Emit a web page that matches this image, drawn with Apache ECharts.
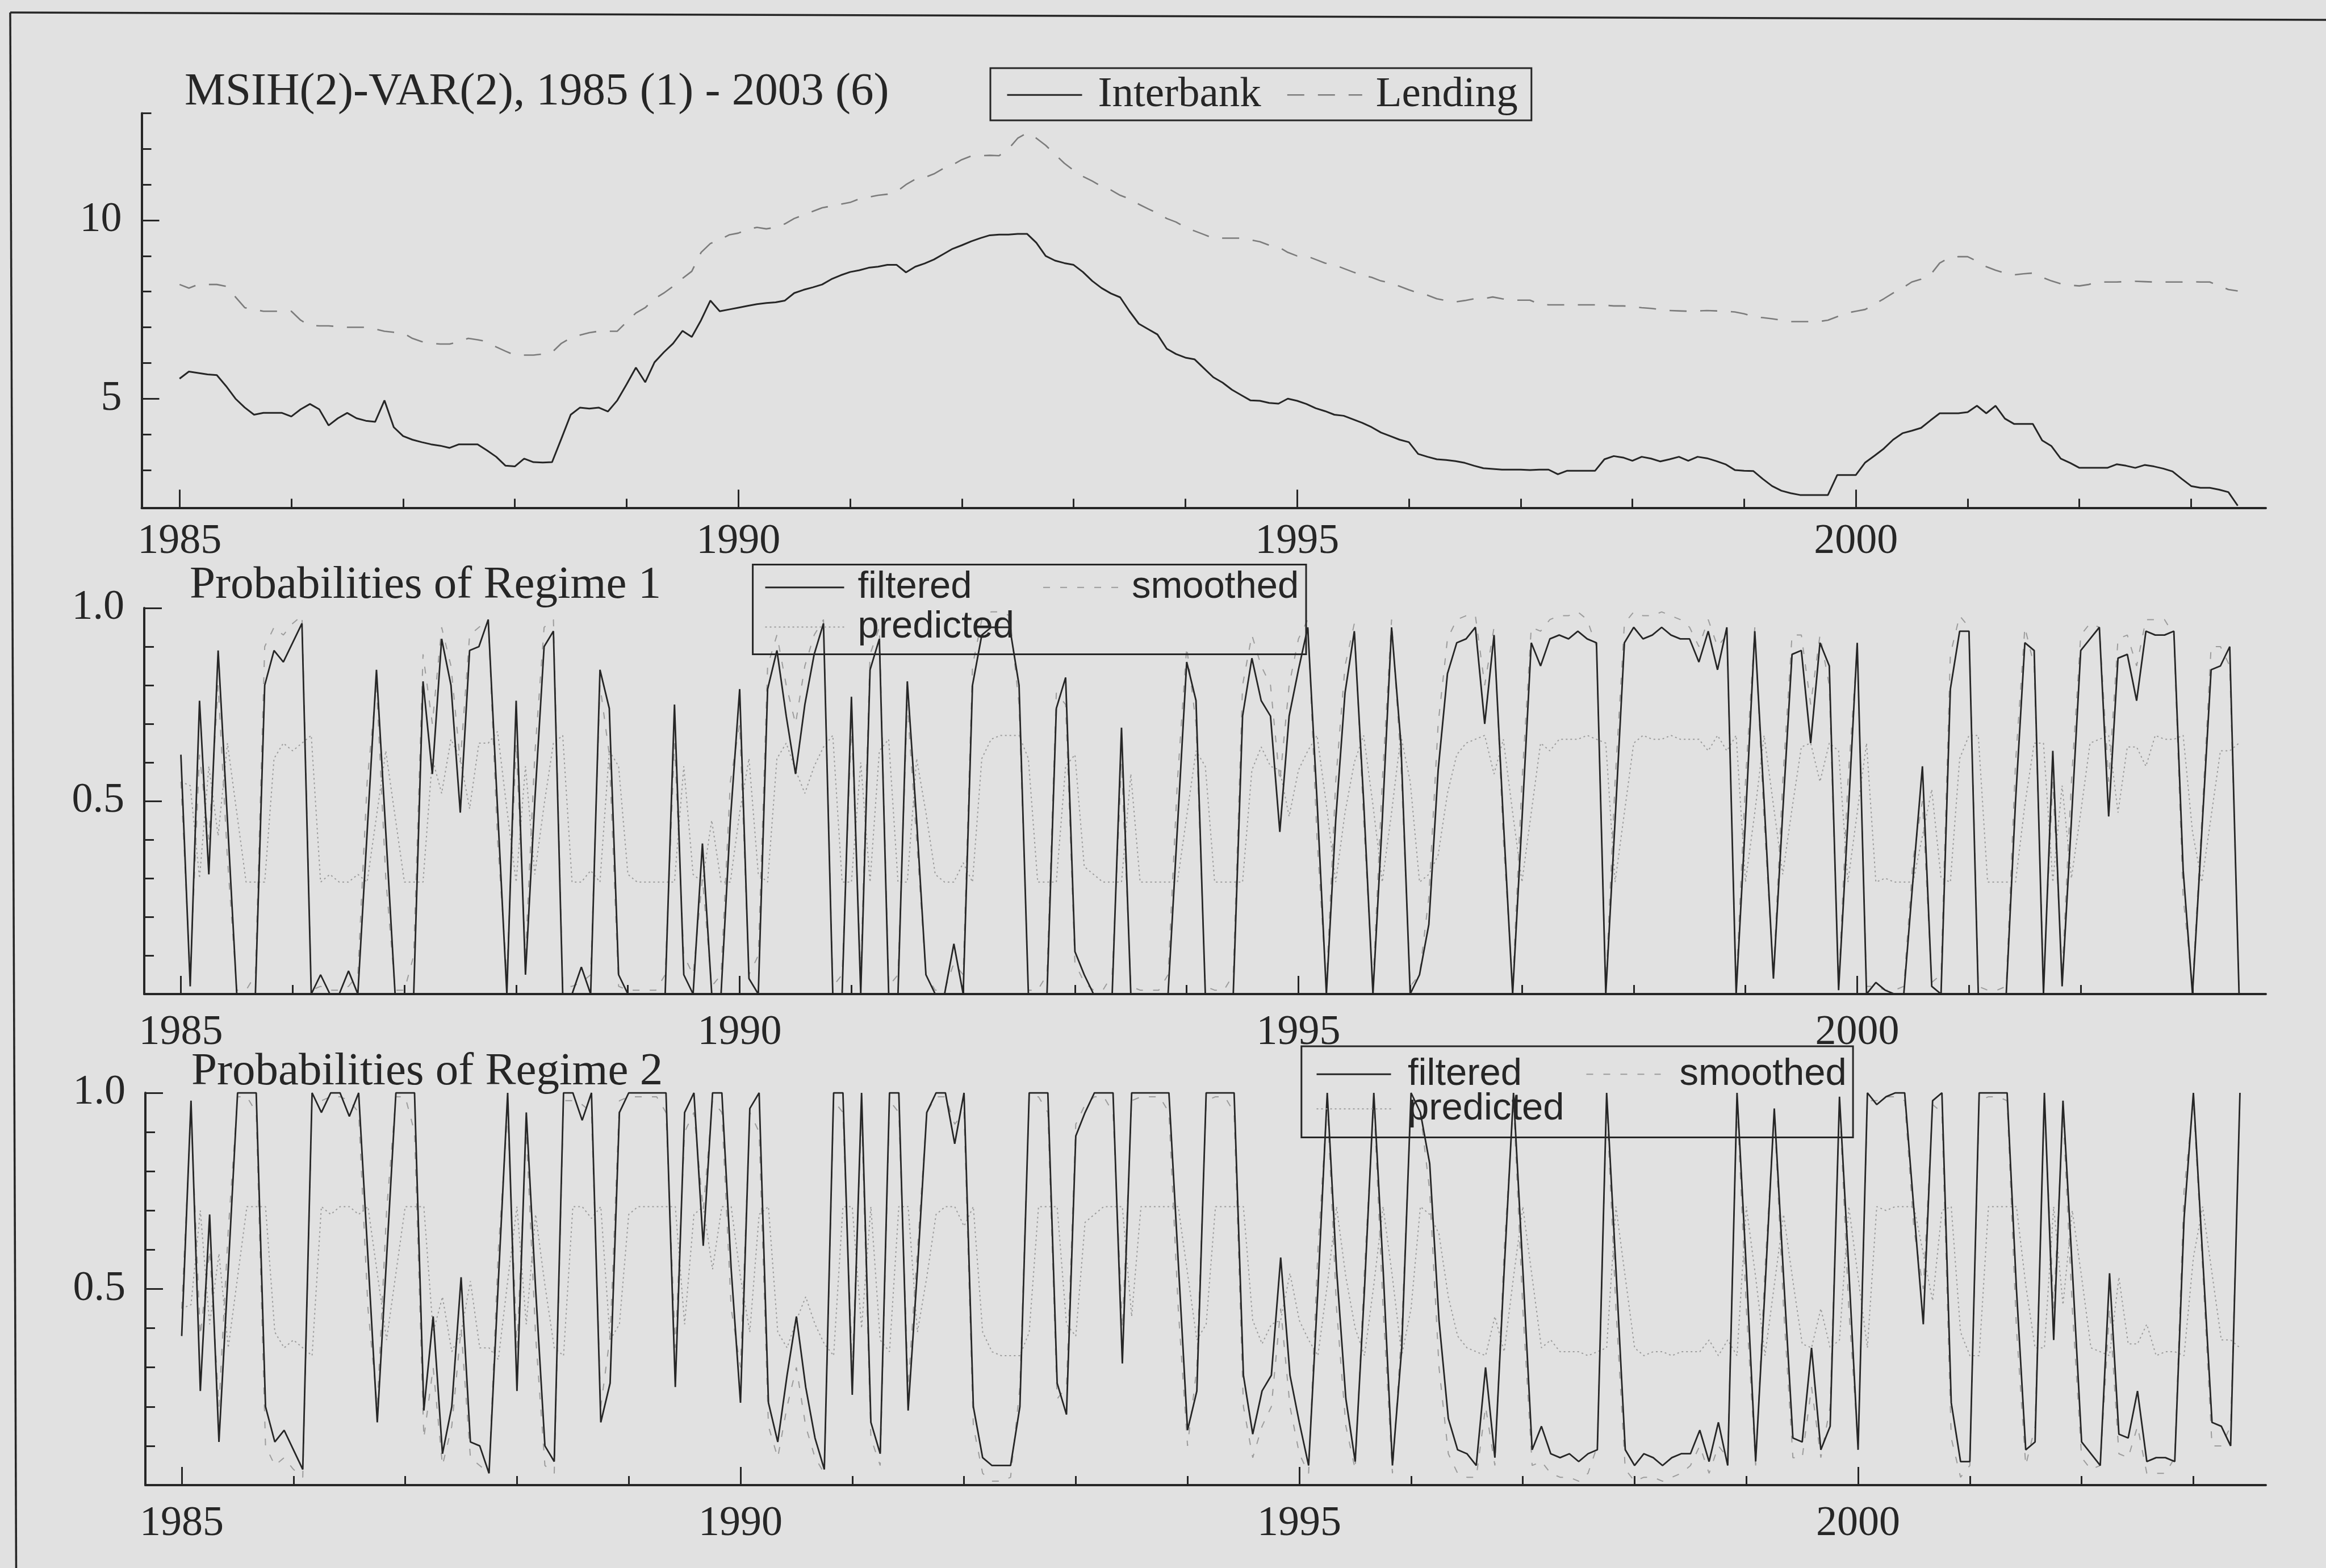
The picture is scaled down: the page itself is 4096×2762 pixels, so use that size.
<!DOCTYPE html>
<html>
<head>
<meta charset="utf-8">
<title>MSIH(2)-VAR(2), 1985 (1) - 2003 (6)</title>
<script src="https://cdn.jsdelivr.net/npm/echarts@6/dist/echarts.min.js"></script>
<style>
  html, body { margin: 0; padding: 0; background: #e1e1e1; }
  #chart { width: 4096px; height: 2762px; }
</style>
</head>
<body>
<div id="chart"></div>
<script>
// Monthly sample, 1985 (1) - 2003 (6): one row per year.
const startYear = 1985;

const interbank = [
  5.56, 5.76, 5.72, 5.68, 5.66, 5.35, 5.0, 4.75, 4.55, 4.6, 4.6, 4.6,
  4.5, 4.7, 4.85, 4.7, 4.25, 4.45, 4.6, 4.45, 4.38, 4.35, 4.95, 4.2,
  3.95, 3.85, 3.78, 3.72, 3.68, 3.62, 3.72, 3.72, 3.72, 3.55, 3.37, 3.12,
  3.1, 3.32, 3.22, 3.21, 3.22, 3.88, 4.55, 4.75, 4.72, 4.75, 4.64, 4.95,
  5.4, 5.87, 5.46, 6.02, 6.3, 6.55, 6.9, 6.73, 7.2, 7.75, 7.45, 7.5,
  7.55, 7.6, 7.65, 7.68, 7.7, 7.75, 7.96, 8.05, 8.12, 8.2, 8.35, 8.46,
  8.55, 8.6, 8.67, 8.7, 8.75, 8.75, 8.54, 8.7, 8.79, 8.9, 9.05, 9.2,
  9.3, 9.41, 9.5, 9.58, 9.6, 9.6, 9.62, 9.62, 9.37, 9.0, 8.87, 8.8,
  8.75, 8.55, 8.3, 8.1, 7.95, 7.84, 7.45, 7.1, 6.95, 6.8, 6.4, 6.25,
  6.15, 6.1, 5.85, 5.6, 5.45, 5.25, 5.1, 4.95, 4.94, 4.88, 4.86, 5.0,
  4.94, 4.85, 4.73, 4.65, 4.55, 4.52, 4.42, 4.32, 4.2, 4.05, 3.95, 3.85,
  3.78, 3.45, 3.37, 3.3, 3.28, 3.25, 3.2, 3.12, 3.05, 3.03, 3.01, 3.01,
  3.01, 3.0, 3.01, 3.01, 2.88, 2.98, 2.98, 2.98, 2.98, 3.3, 3.39, 3.35,
  3.26, 3.37, 3.32, 3.24, 3.3, 3.37, 3.26, 3.37, 3.33, 3.25, 3.16, 3.0,
  2.98, 2.97, 2.75, 2.55, 2.42, 2.35, 2.3, 2.3, 2.3, 2.3, 2.86, 2.86,
  2.86, 3.21, 3.4, 3.6, 3.85, 4.03, 4.1, 4.18, 4.39, 4.59, 4.59, 4.59,
  4.62, 4.8, 4.59, 4.8, 4.44, 4.29, 4.29, 4.29, 3.83, 3.67, 3.32, 3.2,
  3.06, 3.06, 3.06, 3.06, 3.16, 3.12, 3.06, 3.14, 3.1, 3.04, 2.96, 2.75,
  2.55, 2.5, 2.5, 2.45, 2.38, 2.0
];

const lending = [
  8.2, 8.1, 8.2, 8.2, 8.2, 8.15, 7.85, 7.55, 7.5, 7.45, 7.45, 7.45,
  7.45, 7.2, 7.05, 7.04, 7.04, 7.02, 7.0, 7.0, 7.0, 6.95, 6.89, 6.86,
  6.84, 6.69, 6.6, 6.55, 6.53, 6.53, 6.6, 6.69, 6.65, 6.6, 6.45, 6.33,
  6.22, 6.22, 6.22, 6.25, 6.3, 6.55, 6.7, 6.78, 6.85, 6.89, 6.89, 6.89,
  7.15, 7.4, 7.55, 7.8, 7.96, 8.15, 8.37, 8.57, 9.1, 9.35, 9.45, 9.59,
  9.64, 9.75, 9.8, 9.76, 9.8, 9.9, 10.05, 10.15, 10.25, 10.35, 10.4, 10.45,
  10.5, 10.6, 10.65, 10.7, 10.73, 10.8, 11.0, 11.15, 11.2, 11.3, 11.45, 11.55,
  11.7, 11.8, 11.81, 11.82, 11.81, 12.0, 12.3, 12.45, 12.3, 12.1, 11.85, 11.6,
  11.4, 11.23, 11.1, 10.95, 10.85, 10.7, 10.6, 10.45, 10.32, 10.2, 10.05, 9.95,
  9.8, 9.7, 9.6, 9.5, 9.5, 9.5, 9.5, 9.45, 9.4, 9.3, 9.25, 9.1,
  9.0, 9.0, 8.9, 8.8, 8.75, 8.65, 8.55, 8.46, 8.4, 8.3, 8.25, 8.15,
  8.05, 7.96, 7.9, 7.8, 7.75, 7.71, 7.75, 7.8, 7.8, 7.85, 7.8, 7.76,
  7.76, 7.76, 7.65, 7.63, 7.63, 7.63, 7.63, 7.63, 7.63, 7.62, 7.6, 7.6,
  7.58, 7.55, 7.53, 7.5, 7.47, 7.46, 7.45, 7.46, 7.47, 7.46, 7.45, 7.43,
  7.38, 7.3, 7.27, 7.24, 7.2, 7.16, 7.16, 7.16, 7.16, 7.2, 7.3, 7.4,
  7.45, 7.5, 7.65, 7.8, 7.96, 8.1, 8.27, 8.35, 8.47, 8.8, 8.95, 8.98,
  8.98, 8.85, 8.7, 8.6, 8.52, 8.47, 8.5, 8.52, 8.4, 8.3, 8.22, 8.18,
  8.16, 8.2, 8.27, 8.27, 8.27, 8.28, 8.29, 8.28, 8.27, 8.27, 8.27, 8.27,
  8.28, 8.27, 8.27, 8.16, 8.06, 8.02
];

const regime1Filtered = [
  .62, .02, .76, .31, .89, .45, 0, 0, 0, .80, .89, .86,
  .91, .96, 0, .05, 0, 0, .06, 0, .42, .84, .42, 0,
  0, 0, .81, .57, .92, .80, .47, .89, .90, .97, .48, 0,
  .76, .05, .5, .90, .94, 0, 0, .07, 0, .84, .74, .05,
  0, 0, 0, 0, 0, .75, .05, 0, .39, 0, 0, .45,
  .79, .04, 0, .79, .89, .72, .57, .75, .88, .96, 0, 0,
  .77, 0, .84, .92, 0, 0, .81, .45, .05, 0, 0, .13,
  0, .80, .93, .95, .95, .95, .80, 0, 0, 0, .74, .82,
  .11, .05, 0, 0, 0, .69, 0, 0, 0, 0, 0, .43,
  .86, .76, 0, 0, 0, 0, .72, .87, .76, .72, .42, .72,
  .84, .95, .5, 0, .45, .78, .94, .5, 0, .45, .95, .65,
  0, .05, .18, .58, .83, .91, .92, .95, .70, .93, .45, 0,
  .45, .91, .85, .92, .93, .92, .94, .92, .91, 0, .45, .91,
  .95, .92, .93, .95, .93, .92, .92, .86, .94, .84, .95, 0,
  .45, .94, .5, .04, .47, .88, .89, .65, .91, .85, .01, .45,
  .91, 0, .03, .01, 0, 0, .3, .59, .02, 0, .79, .94,
  .94, 0, 0, 0, 0, .5, .91, .89, 0, .63, .02, .45,
  .89, .92, .95, .46, .87, .88, .76, .94, .93, .93, .94, .32,
  0, .42, .84, .85, .90, 0
];

const regime1Smoothed = [
  .55, .05, .62, .40, .80, .35, .01, .01, .05, .90, .95, .93,
  .96, .98, .01, .02, .01, .01, .02, .05, .55, .80, .30, .01,
  .01, .10, .88, .70, .95, .85, .60, .93, .95, .97, .40, .05,
  .65, .10, .62, .95, .97, .02, .02, .03, .05, .80, .62, .02,
  .01, .01, .01, .01, .05, .65, .10, .05, .30, .02, .05, .55,
  .70, .05, .10, .85, .93, .80, .70, .85, .93, .97, .02, .05,
  .70, .05, .88, .95, .02, .05, .75, .40, .05, .01, .01, .08,
  .05, .85, .97, .99, .99, .98, .75, .01, .01, .05, .78, .75,
  .08, .03, .01, .01, .05, .60, .02, .01, .01, .01, .05, .55,
  .90, .70, .02, .01, .01, .05, .80, .93, .85, .80, .55, .80,
  .92, .97, .40, .02, .55, .85, .96, .45, .02, .55, .97, .60,
  .02, .05, .25, .70, .92, .97, .98, .98, .80, .95, .40, .02,
  .55, .95, .94, .97, .98, .98, .99, .97, .90, .02, .55, .96,
  .99, .98, .98, .99, .98, .97, .95, .90, .97, .90, .93, .02,
  .55, .95, .45, .05, .55, .93, .93, .75, .93, .80, .02, .55,
  .90, .02, .02, .01, .01, .02, .35, .50, .03, .05, .88, .98,
  .95, .02, .01, .01, .02, .60, .95, .85, .03, .55, .05, .55,
  .93, .96, .95, .55, .92, .93, .85, .97, .97, .97, .93, .25,
  .02, .45, .90, .90, .85, .02
];

const regime1Predicted = [
  .55, .54, .30, .59, .41, .65, .47, .29, .29, .29, .61, .65,
  .63, .65, .67, .29, .31, .29, .29, .31, .29, .46, .63, .46,
  .29, .29, .29, .61, .52, .66, .61, .48, .65, .65, .68, .48,
  .29, .59, .31, .49, .65, .67, .29, .29, .32, .29, .63, .59,
  .31, .29, .29, .29, .29, .29, .59, .31, .29, .45, .29, .29,
  .47, .61, .31, .29, .61, .65, .58, .52, .59, .64, .67, .29,
  .29, .60, .29, .63, .66, .29, .29, .61, .47, .31, .29, .29,
  .34, .29, .61, .66, .67, .67, .67, .61, .29, .29, .29, .59,
  .62, .33, .31, .29, .29, .29, .57, .29, .29, .29, .29, .29,
  .46, .63, .59, .29, .29, .29, .29, .58, .64, .59, .58, .46,
  .58, .63, .67, .49, .29, .47, .60, .67, .49, .29, .47, .67,
  .55, .29, .31, .36, .52, .62, .65, .66, .67, .57, .66, .47,
  .29, .47, .65, .63, .66, .66, .66, .67, .66, .65, .29, .47,
  .65, .67, .66, .66, .67, .66, .66, .66, .63, .67, .63, .67,
  .29, .47, .67, .49, .31, .48, .64, .65, .55, .65, .63, .29,
  .47, .65, .29, .30, .29, .29, .29, .41, .53, .30, .29, .61,
  .67, .67, .29, .29, .29, .29, .49, .65, .65, .29, .54, .30,
  .47, .65, .66, .67, .47, .64, .64, .59, .67, .66, .66, .67,
  .42, .29, .46, .63, .63, .65
];

const regime2Filtered = [
  .38, .98, .24, .69, .11, .55, 1, 1, 1, .20, .11, .14,
  .09, .04, 1, .95, 1, 1, .94, 1, .58, .16, .58, 1,
  1, 1, .19, .43, .08, .20, .53, .11, .10, .03, .52, 1,
  .24, .95, .5, .10, .06, 1, 1, .93, 1, .16, .26, .95,
  1, 1, 1, 1, 1, .25, .95, 1, .61, 1, 1, .55,
  .21, .96, 1, .21, .11, .28, .43, .25, .12, .04, 1, 1,
  .23, 1, .16, .08, 1, 1, .19, .55, .95, 1, 1, .87,
  1, .20, .07, .05, .05, .05, .20, 1, 1, 1, .26, .18,
  .89, .95, 1, 1, 1, .31, 1, 1, 1, 1, 1, .57,
  .14, .24, 1, 1, 1, 1, .28, .13, .24, .28, .58, .28,
  .16, .05, .5, 1, .55, .22, .06, .5, 1, .55, .05, .35,
  1, .95, .82, .42, .17, .09, .08, .05, .30, .07, .55, 1,
  .55, .09, .15, .08, .07, .08, .06, .08, .09, 1, .55, .09,
  .05, .08, .07, .05, .07, .08, .08, .14, .06, .16, .05, 1,
  .55, .06, .5, .96, .53, .12, .11, .35, .09, .15, .99, .55,
  .09, 1, .97, .99, 1, 1, .7, .41, .98, 1, .21, .06,
  .06, 1, 1, 1, 1, .5, .09, .11, 1, .37, .98, .55,
  .11, .08, .05, .54, .13, .12, .24, .06, .07, .07, .06, .68,
  1, .58, .16, .15, .10, 1
];

const regime2Smoothed = [
  .45, .95, .38, .60, .20, .65, .99, .99, .95, .10, .05, .07,
  .04, .02, .99, .98, .99, .99, .98, .95, .45, .20, .70, .99,
  .99, .90, .12, .30, .05, .15, .40, .07, .05, .03, .60, .95,
  .35, .90, .38, .05, .03, .98, .98, .97, .95, .20, .38, .98,
  .99, .99, .99, .99, .95, .35, .90, .95, .70, .98, .95, .45,
  .30, .95, .90, .15, .07, .20, .30, .15, .07, .03, .98, .95,
  .30, .95, .12, .05, .98, .95, .25, .60, .95, .99, .99, .92,
  .95, .15, .03, .01, .01, .02, .25, .99, .99, .95, .22, .25,
  .92, .97, .99, .99, .95, .40, .98, .99, .99, .99, .95, .45,
  .10, .30, .98, .99, .99, .95, .20, .07, .15, .20, .45, .20,
  .08, .03, .60, .98, .45, .15, .04, .55, .98, .45, .03, .40,
  .98, .95, .75, .30, .08, .03, .02, .02, .20, .05, .60, .98,
  .45, .05, .06, .03, .02, .02, .01, .03, .10, .98, .45, .04,
  .01, .02, .02, .01, .02, .03, .05, .10, .03, .10, .07, .98,
  .45, .05, .55, .95, .45, .07, .07, .25, .07, .20, .98, .45,
  .10, .98, .98, .99, .99, .98, .65, .50, .97, .95, .12, .02,
  .05, .98, .99, .99, .98, .40, .05, .15, .97, .45, .95, .45,
  .07, .04, .05, .45, .08, .07, .15, .03, .03, .03, .07, .75,
  .98, .55, .10, .10, .15, .98
];

const regime2Predicted = [
  .45, .46, .70, .41, .59, .35, .53, .71, .71, .71, .39, .35,
  .37, .35, .33, .71, .69, .71, .71, .69, .71, .54, .37, .54,
  .71, .71, .71, .39, .48, .34, .39, .52, .35, .35, .32, .52,
  .71, .41, .69, .51, .35, .33, .71, .71, .68, .71, .37, .41,
  .69, .71, .71, .71, .71, .71, .41, .69, .71, .55, .71, .71,
  .53, .39, .69, .71, .39, .35, .42, .48, .41, .36, .33, .71,
  .71, .40, .71, .37, .34, .71, .71, .39, .53, .69, .71, .71,
  .66, .71, .39, .34, .33, .33, .33, .39, .71, .71, .71, .41,
  .38, .67, .69, .71, .71, .71, .43, .71, .71, .71, .71, .71,
  .54, .37, .41, .71, .71, .71, .71, .42, .36, .41, .42, .54,
  .42, .37, .33, .51, .71, .53, .40, .33, .51, .71, .53, .33,
  .45, .71, .69, .64, .48, .38, .35, .34, .33, .43, .34, .53,
  .71, .53, .35, .37, .34, .34, .34, .33, .34, .35, .71, .53,
  .35, .33, .34, .34, .33, .34, .34, .34, .37, .33, .37, .33,
  .71, .53, .33, .51, .69, .52, .36, .35, .45, .35, .37, .71,
  .53, .35, .71, .70, .71, .71, .71, .59, .47, .70, .71, .39,
  .33, .33, .71, .71, .71, .71, .51, .35, .35, .71, .46, .70,
  .53, .35, .34, .33, .53, .36, .36, .41, .33, .34, .34, .33,
  .58, .71, .54, .37, .37, .35
];

// Axis tick and label positions
const yearLabels = [1985, 1990, 1995, 2000];
const yearMinorTicks = [1986, 1987, 1988, 1989, 1991, 1992, 1993, 1994,
                        1996, 1997, 1998, 1999, 2001, 2002, 2003];
const rateLabels = [5, 10];
const rateMinorTicks = [3, 4, 6, 7, 8, 9, 11, 12, 13];
const probLabels = [0.5, 1.0];
const probMinorTicks = [0.1, 0.2, 0.3, 0.4, 0.6, 0.7, 0.8, 0.9];

// Decimal-year time index of the monthly observations
const dates = interbank.map((_, i) => startYear + i / 12);
const points = vals => vals.map((v, i) => [dates[i], v]);

const INK = '#262626';
const LENDING_GREY = '#7c7c7c';
const LIGHT_GREY = '#9c9c9c';
const SERIF = '"Liberation Serif", "Times New Roman", Times, serif';
const SANS = '"Liberation Sans", Arial, Helvetica, sans-serif';

// Each panel: a grid with a main axis (line, long ticks, labels) and a second axis carrying the short ticks.
const panels = [
  { left: 249.5, top: 199.5, height: 695, xMin: 1984.661, xMax: 2003.668, yMin: 1.94, yMax: 13,
    yLabels: rateLabels, yMinor: rateMinorTicks, yFmt: v => String(v), xLabelMargin: 23, yLabelPad: 26 },
  { left: 254, top: 1071, height: 680, xMin: 1984.672, xMax: 2003.656, yMin: 0, yMax: 1,
    yLabels: probLabels, yMinor: probMinorTicks, yFmt: v => v.toFixed(1), xLabelMargin: 32, yLabelPad: 14 },
  { left: 256, top: 1925, height: 691, xMin: 1984.675, xMax: 2003.648, yMin: 0, yMax: 1,
    yLabels: probLabels, yMinor: probMinorTicks, yFmt: v => v.toFixed(1), xLabelMargin: 32, yLabelPad: 14 }
];

const grids = [], xAxes = [], yAxes = [];
panels.forEach((p, g) => {
  grids.push({ left: p.left, top: p.top, width: 3990 - p.left, height: p.height,
               containLabel: false, outerBoundsMode: 'none' });
  const xBase = { type: 'value', gridIndex: g, min: p.xMin, max: p.xMax, position: 'bottom',
                  splitLine: { show: false }, axisPointer: { show: false } };
  xAxes.push(Object.assign({}, xBase, {
    axisLine: { show: true, onZero: false, lineStyle: { color: INK, width: 4 } },
    axisTick: { show: true, inside: true, length: 32, customValues: yearLabels, lineStyle: { color: INK, width: 3 } },
    axisLabel: { show: true, customValues: yearLabels, margin: p.xLabelMargin, color: INK,
                 fontFamily: SERIF, fontSize: 74, formatter: v => String(Math.round(v)) }
  }));
  xAxes.push(Object.assign({}, xBase, {
    axisLine: { show: false, onZero: false },
    axisTick: { show: true, inside: true, length: 16, customValues: yearMinorTicks, lineStyle: { color: INK, width: 3 } },
    axisLabel: { show: false }
  }));
  const yBase = { type: 'value', gridIndex: g, min: p.yMin, max: p.yMax, position: 'left',
                  splitLine: { show: false }, axisPointer: { show: false } };
  yAxes.push(Object.assign({}, yBase, {
    axisLine: { show: true, onZero: false, lineStyle: { color: INK, width: 4 } },
    axisTick: { show: true, inside: true, length: 31, customValues: p.yLabels, lineStyle: { color: INK, width: 3 } },
    axisLabel: { show: true, customValues: p.yLabels, margin: 35, color: INK, fontFamily: SERIF,
                 fontSize: 74, padding: [p.yLabelPad, 0, 0, 0], formatter: p.yFmt }
  }));
  yAxes.push(Object.assign({}, yBase, {
    axisLine: { show: false, onZero: false },
    axisTick: { show: true, inside: true, length: 17, customValues: p.yMinor, lineStyle: { color: INK, width: 3 } },
    axisLabel: { show: false }
  }));
});

const STYLE = {
  interbank: { color: INK, width: 3, type: 'solid' },
  lending:   { color: LENDING_GREY, width: 2.6, type: [30, 24] },
  filtered:  { color: INK, width: 2.8, type: 'solid' },
  smoothed:  { color: LIGHT_GREY, width: 2, type: [12, 18] },
  predicted: { color: LIGHT_GREY, width: 2, type: [3, 5] }
};

function line(name, vals, g, style, z) {
  return {
    name, type: 'line', xAxisIndex: 2 * g, yAxisIndex: 2 * g, data: points(vals),
    symbol: 'none', showSymbol: false, smooth: false, silent: true, z,
    color: style.color, lineStyle: style, emphasis: { disabled: true }
  };
}

const series = [
  line('Lending', lending, 0, STYLE.lending, 2),
  line('Interbank', interbank, 0, STYLE.interbank, 3),
  line('predicted', regime1Predicted, 1, STYLE.predicted, 2),
  line('smoothed', regime1Smoothed, 1, STYLE.smoothed, 2),
  line('filtered', regime1Filtered, 1, STYLE.filtered, 3),
  line('predicted', regime2Predicted, 2, STYLE.predicted, 2),
  line('smoothed', regime2Smoothed, 2, STYLE.smoothed, 2),
  line('filtered', regime2Filtered, 2, STYLE.filtered, 3)
];

const legendCommon = {
  orient: 'horizontal', selectedMode: false, backgroundColor: 'transparent',
  borderColor: INK, borderWidth: 3, borderRadius: 0,
  itemHeight: 14, itemStyle: { opacity: 0, borderWidth: 0 }
};

const legends = [
  Object.assign({}, legendCommon, {
    left: 1744, top: 120, itemWidth: 132, itemGap: 20, padding: [9.7, 16, 7.3, 28],
    textStyle: { fontFamily: SERIF, fontSize: 75, lineHeight: 75, color: INK, padding: [0, 0, 0, 23], width: 312 },
    data: [
      { name: 'Interbank', lineStyle: { width: 3 } },
      { name: 'Lending', lineStyle: { width: 2.6 }, textStyle: { padding: [0, 0, 0, 19], width: 258 } }
    ]
  }),
  Object.assign({}, legendCommon, {
    left: 1325.6, top: 994.6, width: 1000, itemWidth: 139, itemGap: 2.6, padding: [6.7, 10, 14.5, 20.4],
    textStyle: { fontFamily: SANS, fontSize: 67, lineHeight: 67, color: INK, padding: [0, 0, 0, 19], width: 322.9 },
    data: [
      { name: 'filtered', lineStyle: { width: 3 } },
      { name: 'smoothed', lineStyle: { width: 2 }, textStyle: { padding: [0, 0, 0, 12], width: 297 } },
      { name: 'predicted', lineStyle: { width: 2 } }
    ]
  }),
  Object.assign({}, legendCommon, {
    left: 2291.8, top: 1843, width: 1000, itemWidth: 131, itemGap: -6, padding: [15.7, 10.6, 16.7, 25.2],
    textStyle: { fontFamily: SANS, fontSize: 67, lineHeight: 67, color: INK, padding: [0, 0, 0, 24.5], width: 319.5 },
    data: [
      { name: 'filtered', lineStyle: { width: 3 } },
      { name: 'smoothed', lineStyle: { width: 2 }, textStyle: { padding: [0, 0, 0, 28], width: 295 } },
      { name: 'predicted', lineStyle: { width: 2 } }
    ]
  })
];

const heading = (x, y, text) => ({
  type: 'text', x, y, silent: true,
  style: { text, fontFamily: SERIF, fontSize: 81, fill: INK, verticalAlign: 'middle', align: 'left' }
});

const option = {
  backgroundColor: '#e1e1e1',
  animation: false,
  grid: grids,
  xAxis: xAxes,
  yAxis: yAxes,
  legend: legends,
  series,
  graphic: [
    { type: 'line', silent: true, shape: { x1: 18, y1: 22, x2: 28.5, y2: 2762 }, style: { stroke: INK, lineWidth: 3.5 } },
    { type: 'line', silent: true, shape: { x1: 18, y1: 22, x2: 4096, y2: 35 }, style: { stroke: INK, lineWidth: 3.5 } },
    heading(325, 162.7, 'MSIH(2)-VAR(2), 1985 (1) - 2003 (6)'),
    heading(334, 1031.7, 'Probabilities of Regime 1'),
    heading(337, 1889, 'Probabilities of Regime 2')
  ]
};

const chart = echarts.init(document.getElementById('chart'), null, { renderer: 'canvas', width: 4096, height: 2762 });
chart.setOption(option);
</script>
</body>
</html>
